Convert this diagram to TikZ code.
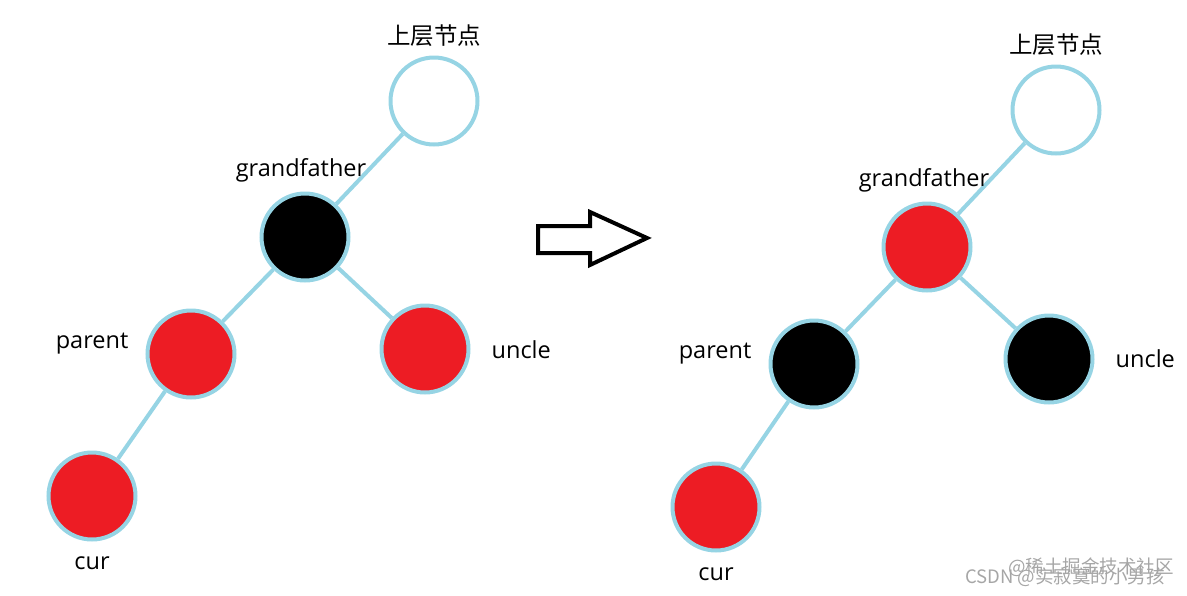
\documentclass[tikz,border=0pt]{standalone}
\usepackage{fontspec}
\setmainfont{Open Sans}
\newfontfamily\cjk{Noto Sans CJK SC}
\usetikzlibrary{positioning}
\definecolor{edgeblue}{RGB}{150,212,228}
\definecolor{rbred}{RGB}{237,28,36}

\begin{document}
\begin{tikzpicture}[
    x=1pt, y=-1pt,
    node distance=8pt and 16pt,
    rbnode/.style={circle, draw=edgeblue, line width=4pt, minimum size=87pt, inner sep=0pt},
    empty/.style={rbnode, fill=white},
    blk/.style={rbnode, fill=black},
    red/.style={rbnode, fill=rbred},
    link/.style={draw=edgeblue, line width=4pt},
    lbl/.style={font=\fontsize{23.5}{26}\selectfont, inner sep=1pt},
]
\useasboundingbox (0,0) rectangle (1187,595);

% before
\node[empty] (top) at (434,101) {};
\node[blk] (gf) at (305,237) {};
\node[red] (par) at (191,354) {};
\node[red] (unc) at (425,349) {};
\node[red] (cur) at (92,496) {};
\draw[link] (top) -- (gf);
\draw[link] (gf) -- (par);
\draw[link] (gf) -- (unc);
\draw[link] (par) -- (cur);
\node[lbl, above=of top] {\cjk 上层节点};
\node[lbl, above=of gf, xshift=-4pt] {grandfather};
\node[lbl, left=of par, yshift=10pt] {parent};
\node[lbl, right=of unc, yshift=-1pt, xshift=4pt] {uncle};
\node[lbl, below=14pt of cur] {cur};

% arrow
\draw[line width=4pt, fill=white] (538,226) -- (590,226) -- (590,212) -- (647,238)
    -- (590,265) -- (590,253) -- (538,253) -- cycle;

% after
\node[empty] (top2) at (1056,110) {};
\node[red] (gf2) at (927,247) {};
\node[blk] (par2) at (814,364) {};
\node[blk] (unc2) at (1049,359) {};
\node[red] (cur2) at (716,507) {};
\draw[link] (top2) -- (gf2);
\draw[link] (gf2) -- (par2);
\draw[link] (gf2) -- (unc2);
\draw[link] (par2) -- (cur2);
\node[lbl, above=of top2] {\cjk 上层节点};
\node[lbl, above=of gf2, xshift=-3pt] {grandfather};
\node[lbl, left=of par2, yshift=10pt] {parent};
\node[lbl, right=of unc2, xshift=4pt] {uncle};
\node[lbl, below=14pt of cur2] {cur};

% watermark
\node[lbl, text=black!35, font=\cjk\fontsize{18.5}{21}\selectfont] (wm1) at (1091,567) {@稀土掘金技术社区};
\node[lbl, text=black!35, font=\cjk\fontsize{18.5}{21}\selectfont] (wm2) at (1065,577) {CSDN @实寂寞的小男孩};
\end{tikzpicture}
\end{document}
